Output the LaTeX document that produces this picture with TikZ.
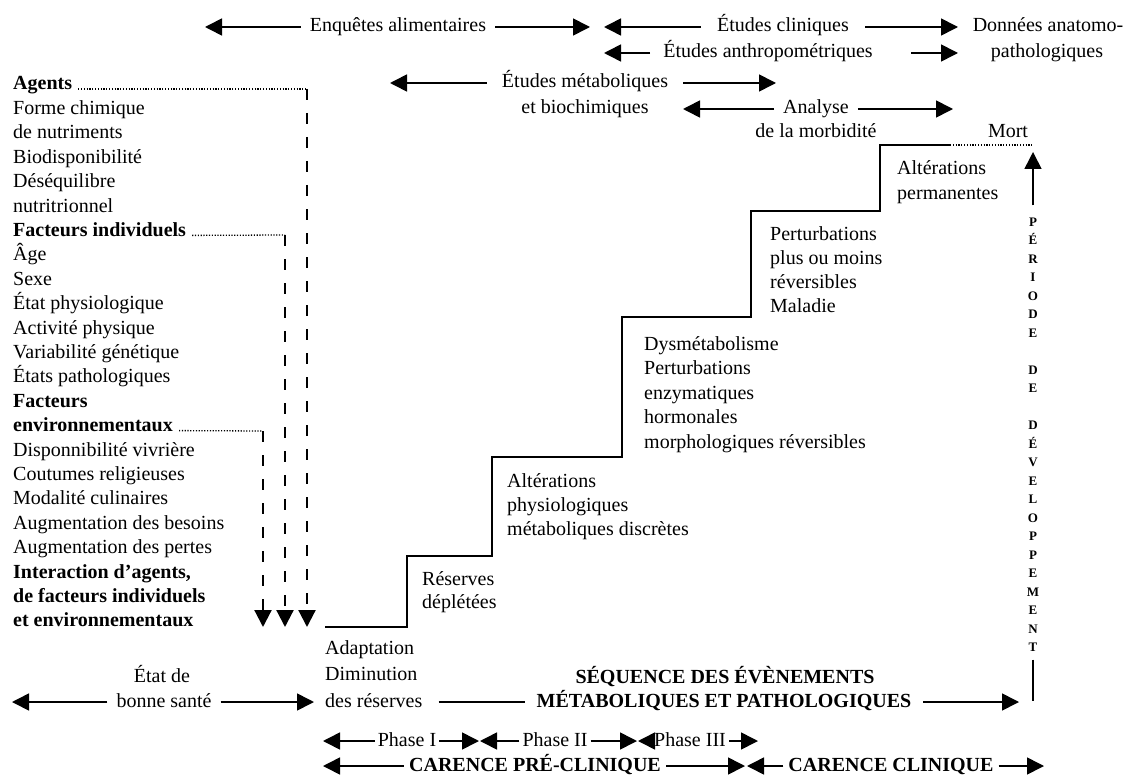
\documentclass[tikz,border=0pt]{standalone}
\usepackage{fontspec}
\setmainfont{Liberation Serif}
\usetikzlibrary{arrows.meta,positioning}

\begin{document}
\begin{tikzpicture}[x=1pt,y=-1pt,
    every node/.style={font=\fontsize{20}{24}\selectfont,inner sep=0pt,
                       text height=14pt,text depth=4pt},
    lbl/.style={inner xsep=9pt},
    arr/.style={-{Triangle[length=17pt,width=17pt]},line width=1.6pt},
    plain/.style={line width=1.6pt},
    lead/.style={line width=1.3pt,dash pattern=on 1.2pt off 1.6pt},
    drop/.style={-{Triangle[length=17pt,width=17pt]},line width=2.2pt,
                 dash pattern=on 11pt off 13pt},
    stair/.style={line width=2pt},
    vl/.style={font=\fontsize{13}{13}\selectfont\bfseries,
               text height=9pt,text depth=0pt}]
  \useasboundingbox (0,0) rectangle (1129,778);

  % methodes d'etude (haut)
  \node [lbl]              (enq)    at (398,27)  {Enquêtes alimentaires};
  \node [lbl,inner xsep=16pt] (clin) at (783,27) {Études cliniques};
  \node [lbl,inner xsep=13pt] (anthro) at (768,53) {Études anthropométriques};
  \node                    (don1)   at (1048,27) {Données anatomo-};
  \node                    (don2)   at (1047,53) {pathologiques};
  \node [lbl,inner xsep=15pt] (metab) at (585,83) {Études métaboliques};
  \node                    (metab2) at (585,109) {et biochimiques};
  \node [lbl]              (ana)    at (816,109) {Analyse};
  \node                    (ana2)   at (816,133) {de la morbidité};
  \node                    (mort)   at (1008,133) {Mort};
  \coordinate (enqL) at (205,27);   \coordinate (enqR) at (590,27);
  \coordinate (clinL) at (604,27);  \coordinate (clinR) at (958,27);
  \coordinate (anthroL) at (604,53);
  \coordinate (anthroM) at (911,53); \coordinate (anthroR) at (958,53);
  \coordinate (metabL) at (390,83); \coordinate (metabR) at (776,83);
  \coordinate (anaL) at (683,109);  \coordinate (anaR) at (953,109);
  \draw [arr] (enq.west) -- (enqL);
  \draw [arr] (enq.east) -- (enqR);
  \draw [arr] (clin.west) -- (clinL);
  \draw [arr] (clin.east) -- (clinR);
  \draw [arr] (anthro.west) -- (anthroL);
  \draw [arr] (anthroM) -- (anthroR);
  \draw [arr] (metab.west) -- (metabL);
  \draw [arr] (metab.east) -- (metabR);
  \draw [arr] (ana.west) -- (anaL);
  \draw [arr] (ana.east) -- (anaR);

  % facteurs (gauche)
  \foreach \t [count=\i from 0] in {\textbf{Agents}, Forme chimique,
      de nutriments, Biodisponibilité, Déséquilibre, nutritrionnel,
      \textbf{Facteurs individuels}, Âge, Sexe, État physiologique,
      Activité physique, Variabilité génétique, États pathologiques,
      \textbf{Facteurs}, \textbf{environnementaux}, Disponnibilité vivrière,
      Coutumes religieuses, Modalité culinaires, Augmentation des besoins,
      Augmentation des pertes, {\textbf{Interaction d’agents,}},
      \textbf{de facteurs individuels}, \textbf{et environnementaux}}
    \node [anchor=west] (l\i) at (13,85+24.4*\i) {\t};
  \coordinate (a0) at (307,89);   \coordinate (b0) at (307,627);
  \coordinate (a1) at (285,235);  \coordinate (b1) at (285,627);
  \coordinate (a2) at (263,431);  \coordinate (b2) at (263,627);
  \draw [lead] ([shift={(6,4)}]l0.east) -- (a0);
  \draw [lead] ([shift={(6,4)}]l6.east) -- (a1);
  \draw [lead] ([shift={(6,4)}]l14.east) -- (a2);
  \draw [drop] (a0) -- (b0);
  \draw [drop] (a1) -- (b1);
  \draw [drop] (a2) -- (b2);

  % escalier
  \draw [stair] (325,627) -- (407,627) -- (407,556) -- (492,556)
    -- (492,457) -- (622,457) -- (622,317) -- (751,317) -- (751,211)
    -- (880,211) -- (880,145) -- (950,145);
  \draw [lead] (950,145) -- (1033,145);
  \foreach \t [count=\i from 0] in {Adaptation, Diminution, des réserves}
    \node [anchor=west] (ad\i) at (325,649+26.5*\i) {\t};
  \foreach \t [count=\i from 0] in {Réserves, déplétées}
    \node [anchor=west] (res\i) at (422,580+23.5*\i) {\t};
  \foreach \t [count=\i from 0] in {Altérations, physiologiques,
      métaboliques discrètes}
    \node [anchor=west] (alt\i) at (507,482+24*\i) {\t};
  \foreach \t [count=\i from 0] in {Dysmétabolisme, Perturbations,
      enzymatiques, hormonales, morphologiques réversibles}
    \node [anchor=west] (dys\i) at (644,345+24.5*\i) {\t};
  \foreach \t [count=\i from 0] in {Perturbations, plus ou moins,
      réversibles, Maladie}
    \node [anchor=west] (pert\i) at (770,235+24.3*\i) {\t};
  \foreach \t [count=\i from 0] in {Altérations, permanentes}
    \node [anchor=west] (perm\i) at (897,170+25*\i) {\t};

  % periode de developpement
  \foreach \c [count=\i from 0] in {P,É,R,I,O,D,E,{},D,E,{},D,É,V,E,L,O,P,P,E,M,E,N,T}
    \node [vl] (v\i) at (1033,222+18.48*\i) {\c};
  \coordinate (mortT) at (1033,152);
  \coordinate (seqB) at (1033,701);
  \draw [arr,shorten <=12pt] (v0) -- (mortT);
  \draw [plain,shorten <=8pt] (v23) -- (seqB);

  % sequence (bas)
  \node                    (etat)  at (162,677) {État de};
  \node [lbl]              (sante) at (164,702) {bonne santé};
  \node [font=\fontsize{20}{24}\selectfont\bfseries] (seq1) at (725,678)
    {SÉQUENCE DES ÉVÈNEMENTS};
  \node [lbl,inner xsep=12pt,font=\fontsize{20}{24}\selectfont\bfseries]
    (seq2) at (724,702) {MÉTABOLIQUES ET PATHOLOGIQUES};
  \coordinate (santeL) at (12,702); \coordinate (santeR) at (314,702);
  \coordinate (seqR) at (1019,702);
  \draw [arr] (sante.west) -- (santeL);
  \draw [arr] (sante.east) -- (santeR);
  \draw [plain,shorten <=16pt] (ad2.east) -- (seq2.west);
  \draw [arr] (seq2.east) -- (seqR);

  % phases
  \node [lbl,inner xsep=3pt] (ph1) at (407,741) {Phase I};
  \node [lbl,inner xsep=3pt] (ph2) at (555,741) {Phase II};
  \node [lbl,inner xsep=3pt] (ph3) at (690,741) {Phase III};
  \coordinate (ph1L) at (323,741); \coordinate (ph1R) at (479,741);
  \coordinate (ph2L) at (480,741); \coordinate (ph2R) at (637,741);
  \coordinate (ph3L) at (638,741); \coordinate (ph3R) at (758,741);
  \draw [arr] (ph1.west) -- (ph1L);
  \draw [arr] (ph1.east) -- (ph1R);
  \draw [arr] (ph2.west) -- (ph2L);
  \draw [arr] (ph2.east) -- (ph2R);
  \draw [arr] (ph3.west) -- (ph3L);
  \draw [arr] (ph3.east) -- (ph3R);

  % carence
  \node [lbl,inner xsep=5pt,font=\fontsize{20}{24}\selectfont\bfseries]
    (car1) at (535,766) {CARENCE PRÉ-CLINIQUE};
  \node [lbl,inner xsep=5pt,font=\fontsize{20}{24}\selectfont\bfseries]
    (car2) at (891,766) {CARENCE CLINIQUE};
  \coordinate (car1L) at (323,766); \coordinate (car1R) at (745,766);
  \coordinate (car2L) at (747,766); \coordinate (car2R) at (1044,766);
  \draw [arr] (car1.west) -- (car1L);
  \draw [arr] (car1.east) -- (car1R);
  \draw [arr] (car2.west) -- (car2L);
  \draw [arr] (car2.east) -- (car2R);
\end{tikzpicture}
\end{document}
